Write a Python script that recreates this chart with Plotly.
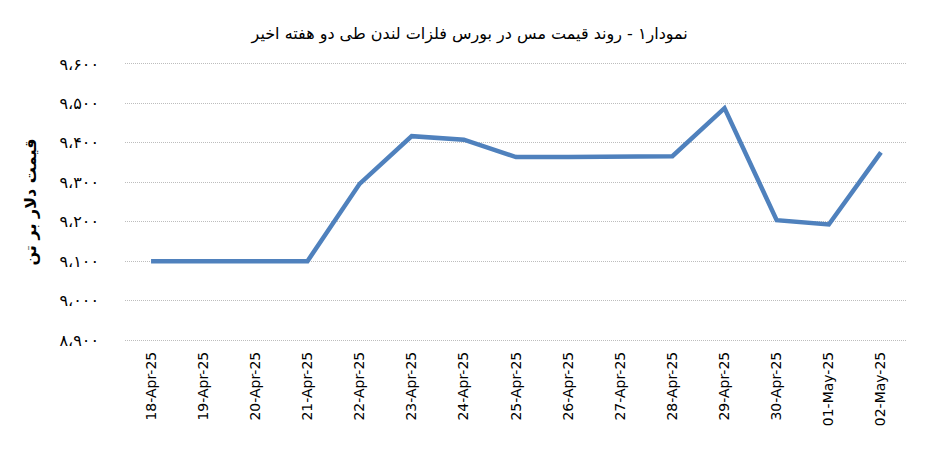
import plotly.graph_objects as go

dates = ["18-Apr-25", "19-Apr-25", "20-Apr-25", "21-Apr-25", "22-Apr-25", "23-Apr-25",
         "24-Apr-25", "25-Apr-25", "26-Apr-25", "27-Apr-25", "28-Apr-25", "29-Apr-25",
         "30-Apr-25", "01-May-25", "02-May-25"]
prices = [9100, 9100, 9100, 9100, 9296, 9417, 9408, 9364, 9364, 9364, 9366, 9488, 9204, 9193, 9376]
y_ticks = [8900, 9000, 9100, 9200, 9300, 9400, 9500, 9600]
y_tick_labels = ["۸،۹۰۰", "۹،۰۰۰", "۹،۱۰۰", "۹،۲۰۰", "۹،۳۰۰", "۹،۴۰۰", "۹،۵۰۰", "۹،۶۰۰"]

fig = go.Figure()
fig.add_trace(go.Scatter(
    x=list(range(len(dates))), y=prices, mode="lines",
    line=dict(color="#4F81BD", width=4.5), hoverinfo="skip"))

fig.update_layout(
    width=946, height=473,
    margin=dict(l=117, r=47, t=54, b=139, autoexpand=False),
    paper_bgcolor="white", plot_bgcolor="white",
    showlegend=False,
    title=dict(text="نمودار۱ - روند قیمت مس در بورس فلزات لندن طی دو هفته اخیر",
               x=0.488, xanchor="center", y=0.947, yanchor="middle",
               font=dict(family="DejaVu Sans", size=16, color="black")),
    xaxis=dict(range=[-0.5, 14.5], tickmode="array", automargin=False,
               tickvals=list(range(len(dates))), ticktext=dates,
               tickangle=-90, showgrid=False, zeroline=False, showline=False,
               ticks="", ticklabelstandoff=6,
               tickfont=dict(family="DejaVu Sans", size=14, color="black")),
    yaxis=dict(range=[8895, 9605], tickmode="array", tickvals=y_ticks, automargin=False,
               ticktext=y_tick_labels, showgrid=True, gridcolor="#BDBDBD",
               griddash="1px,1px", gridwidth=1, zeroline=False, showline=False, ticks="",
               ticklabelstandoff=25,
               tickfont=dict(family="DejaVu Sans", size=16, color="black"),
               title=dict(text="<b>قیمت دلار بر تن</b>", standoff=18,
                          font=dict(family="DejaVu Sans", size=16, color="black"))),
)

fig.write_html("out.html")
